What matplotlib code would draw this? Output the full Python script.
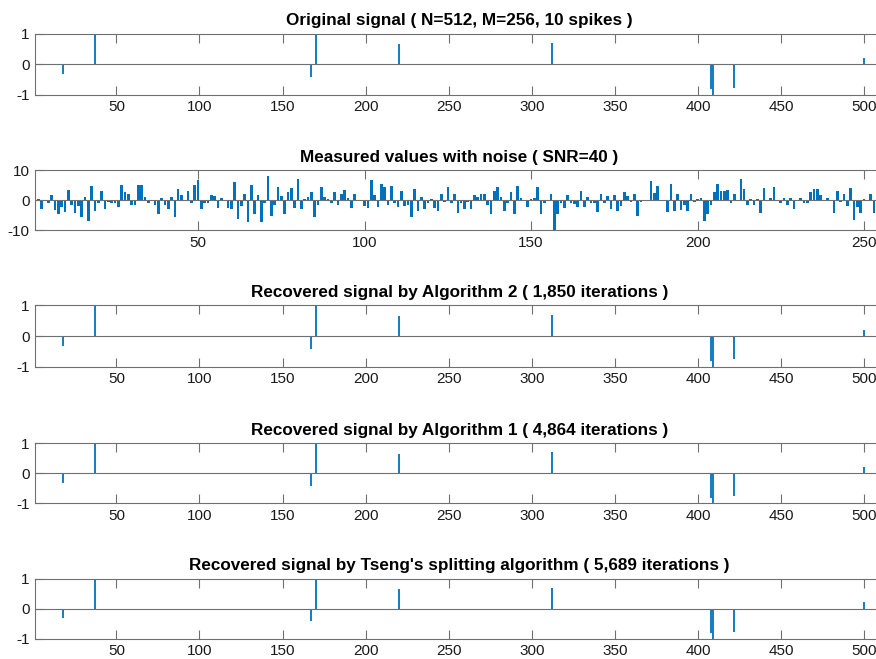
import matplotlib
matplotlib.use('Agg')
import matplotlib.pyplot as plt

plt.rcParams['font.family'] = ['Liberation Sans', 'DejaVu Sans']
plt.rcParams['axes.unicode_minus'] = False

# sparse signal: spike positions and amplitudes
spike_pos = [18, 37, 167, 170, 220, 312, 408, 409, 422, 500]
x_original = [-0.33, 1.0, -0.41, 1.0, 0.67, 0.71, -0.82, -1.0, -0.77, 0.21]
x_alg2 = [-0.32, 1.0, -0.41, 1.0, 0.66, 0.70, -0.82, -1.0, -0.76, 0.21]
x_alg1 = [-0.32, 1.0, -0.41, 1.0, 0.66, 0.70, -0.82, -1.0, -0.76, 0.21]
x_tseng = [-0.32, 1.0, -0.41, 1.0, 0.66, 0.70, -0.82, -1.0, -0.76, 0.21]

measured = [
    4.8, 0.3, -2.8, 0.2, -0.9, 1.6, -3.4, -4.7, -2.2, -4.0,
    3.3, -1.5, -4.2, -1.9, -5.6, 1.1, -7.0, 4.8, -3.5, -1.0,
    3.0, -2.8, -0.5, -1.0, -1.1, -2.2, 5.2, 2.8, 2.0, -1.7,
    -1.5, 5.2, 5.0, 1.0, -0.9, 0.2, -1.5, -4.7, 0.7, -1.5,
    -2.9, 1.1, -5.6, 3.8, 1.7, 0.2, 3.1, -1.1, 5.2, 6.6,
    -2.9, -1.1, -1.1, 1.7, 1.5, -2.5, 0.6, -0.3, -2.5, -2.8,
    6.2, -6.4, -2.0, 2.1, -7.2, 5.0, -4.5, 1.7, -7.3, -1.1,
    8.0, -5.2, -1.5, 4.5, 1.5, -4.7, 2.6, 4.0, -2.5, 7.1,
    -3.1, 0.3, 1.2, 2.7, -5.8, -1.5, 4.5, 1.2, 0.3, -1.1,
    2.8, -1.7, 2.2, 3.3, 0.7, -2.5, 2.2, 0.2, -0.2, -1.8,
    -2.5, 6.7, 1.7, -2.2, 5.4, 4.4, -1.5, 4.9, -0.9, -2.2,
    3.0, -1.8, -1.7, -5.8, 3.7, -3.7, 1.0, -3.1, -0.9, 0.3,
    -2.6, -3.6, 2.0, -0.7, 4.4, -1.1, 2.2, -4.2, -0.9, -3.1,
    -0.7, -2.8, 1.8, 1.1, 2.2, 2.2, -1.5, -4.5, 3.1, 4.5,
    0.9, -3.6, -0.9, 2.7, -4.7, 4.7, 0.7, 0.2, -2.2, 0.3,
    0.6, 4.4, -4.8, -0.9, 0.2, 2.2, -10.3, -4.5, -0.9, -2.6,
    1.7, -0.9, -1.2, -2.4, 3.0, -2.2, 0.9, -1.1, -1.1, -3.9,
    1.9, -1.1, 1.3, -2.8, 1.8, -3.6, -2.0, 2.7, 1.5, -0.6,
    2.0, -5.3, -0.7, -0.3, 0.2, 6.3, 2.5, 4.6, 0.2, -0.2,
    -3.9, 5.3, -3.7, 2.2, -3.4, -1.5, -3.8, 2.2, -0.7, 0.3,
    0.6, -6.9, -4.7, -1.5, 2.8, 5.4, 3.1, 3.1, 3.4, -0.9,
    2.0, 0.2, 7.1, 3.6, -1.7, 0.3, -1.5, 0.3, -4.2, 4.0,
    0.2, 0.6, 4.4, 0.2, -1.1, 0.7, -1.7, 0.6, -2.8, 0.2,
    0.6, -0.8, -0.8, 2.8, 3.6, 3.6, 1.6, 0.2, 0.6, -0.4,
    -4.2, 3.0, -0.6, 2.0, -1.9, 4.0, -6.7, -2.2, -4.3, 0.3,
    0.2, 2.2, -4.2, 1.0, -2.0, 0.5,
]

titles = [
    'Original signal ( N=512, M=256, 10 spikes )',
    'Measured values with noise ( SNR=40 )',
    'Recovered signal by Algorithm 2 ( 1,850 iterations )',
    'Recovered signal by Algorithm 1 ( 4,864 iterations )',
    "Recovered signal by Tseng's splitting algorithm ( 5,689 iterations )",
]

blue = '#0072BD'
axcol = '#707070'

W, H = 876, 659
fig = plt.figure(figsize=(W / 100, H / 100), dpi=100)

left, right = 35, 884
# (top, bottom) of each panel in pixels
boxes = [(33.7, 94.7), (170.3, 230.0), (305.3, 366.7), (443.3, 503.3), (578.7, 638.7)]


def make_axes(top, bottom):
    return fig.add_axes([left / W, 1 - bottom / H,
                         (right - left) / W, (bottom - top) / H])


def style(ax, xmax, xticks, yticks):
    ax.set_xlim(1, xmax)
    ax.set_xticks(xticks)
    ax.set_yticks(yticks)
    for s in ax.spines.values():
        s.set_color(axcol)
        s.set_linewidth(0.8)
    ax.tick_params(direction='in', length=6.2, width=0.8, color=axcol,
                   labelsize=11, labelcolor='#1a1a1a', top=True, right=False)
    ax.tick_params(axis='x', pad=4)
    ax.tick_params(axis='y', pad=4)


signals = [x_original, None, x_alg2, x_alg1, x_tseng]
for i, (top, bottom) in enumerate(boxes):
    ax = make_axes(top, bottom)
    if i == 1:
        idx = list(range(1, len(measured) + 1))
        ax.bar(idx, measured, width=0.8, color=blue, edgecolor='none', zorder=2)
        ax.axhline(0, color=axcol, lw=0.8, zorder=3)
        ax.set_ylim(-10, 10)
        style(ax, 256, [50, 100, 150, 200, 250], [-10, 0, 10])
    else:
        ax.vlines(spike_pos, 0, signals[i], color=blue, lw=1.3, zorder=2)
        ax.axhline(0, color=axcol, lw=0.8, zorder=3)
        ax.set_ylim(-1, 1)
        style(ax, 512, [50, 100, 150, 200, 250, 300, 350, 400, 450, 500],
              [-1, 0, 1])
    ax.set_title(titles[i], fontsize=12.3, fontweight='bold', pad=6)

fig.savefig('out.png', dpi=100)
